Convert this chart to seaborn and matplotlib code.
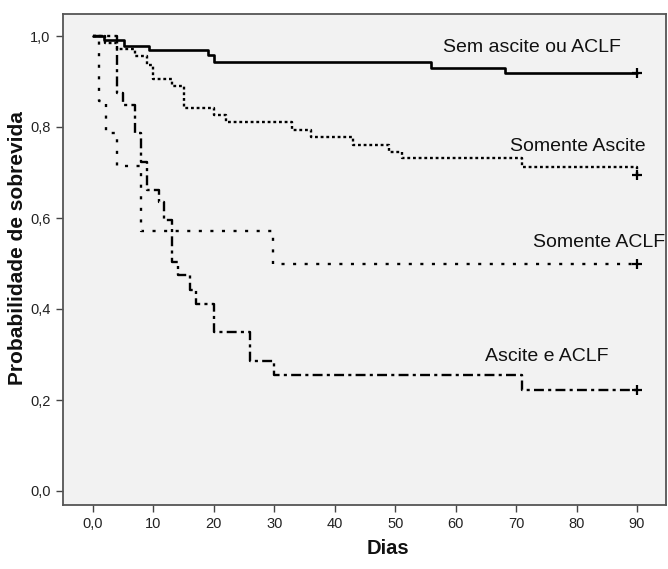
import matplotlib
matplotlib.use("Agg")
import matplotlib.pyplot as plt
import seaborn as sns
import pandas as pd

# ---- data ----
sem_t = [0, 1.9, 5.2, 9.2, 19.1, 20.0, 56.0, 68.1]
sem_s = [1.0, 0.991, 0.979, 0.969, 0.958, 0.942, 0.929, 0.918]

asc_t = [0, 2.0, 4.0, 7.0, 9.0, 10.0, 13.0, 15.0, 20.0, 22.0, 33.0, 36.0, 43.0, 49.0, 51.1, 71.0, 90.0]
asc_s = [1.0, 0.985, 0.971, 0.956, 0.936, 0.906, 0.891, 0.842, 0.826, 0.810, 0.793, 0.777, 0.760, 0.746, 0.731, 0.713, 0.695]

aclf_t = [0, 1.0, 2.1, 4.0, 8.0, 29.8]
aclf_s = [1.0, 0.857, 0.786, 0.714, 0.571, 0.500]

both_t = [0, 4.0, 5.0, 7.0, 8.0, 9.0, 11.0, 11.8, 13.0, 14.0, 16.0, 17.0, 20.0, 26.0, 30.0, 71.0]
both_s = [1.0, 0.875, 0.848, 0.786, 0.724, 0.662, 0.636, 0.596, 0.503, 0.475, 0.442, 0.412, 0.350, 0.286, 0.255, 0.222]

end_day = 90
group_names = ["Sem ascite ou ACLF", "Somente Ascite", "Somente ACLF", "Ascite e ACLF"]
x_ticks = [0, 10, 20, 30, 40, 50, 60, 70, 80, 90]
x_ticklabels = ["0,0", "10", "20", "30", "40", "50", "60", "70", "80", "90"]
y_ticks = [0.0, 0.2, 0.4, 0.6, 0.8, 1.0]
y_ticklabels = ["0,0", "0,2", "0,4", "0,6", "0,8", "1,0"]

# ---- figure ----
sns.set_theme(style="white")
plt.rcParams["font.family"] = ["Liberation Sans", "DejaVu Sans"]

W, H = 668, 569
fig = plt.figure(figsize=(W / 100, H / 100), dpi=100)
fig.patch.set_facecolor("white")
left_px, right_px, top_px, bot_px = 63, 666, 14, 505
ax = fig.add_axes([left_px / W, 1 - bot_px / H, (right_px - left_px) / W, (bot_px - top_px) / H])
ax.set_facecolor("#f2f2f2")

series = [
    (sem_t, sem_s, dict(linestyle="-", linewidth=1.9)),
    (asc_t, asc_s, dict(linestyle=(0, (1.2, 1.2)), linewidth=1.7)),
    (aclf_t, aclf_s, dict(linestyle=(0, (1.3, 3.6)), linewidth=1.7)),
    (both_t, both_s, dict(linestyle=(0, (4.2, 1.8, 1.3, 1.8)), linewidth=1.7)),
]

for name, (t, s, style) in zip(group_names, series):
    xs = list(t) + [end_day]
    ys = list(s) + [s[-1]]
    df = pd.DataFrame({"Dias": xs, "Prob": ys})
    sns.lineplot(data=df, x="Dias", y="Prob", ax=ax, drawstyle="steps-post",
                 sort=False, estimator=None, color="black", **style)
    cens = pd.DataFrame({"Dias": [end_day], "Prob": [s[-1]]})
    sns.scatterplot(data=cens, x="Dias", y="Prob", ax=ax, marker="+", s=45,
                    color="black", linewidth=1.6, zorder=5)

# group labels
txt_kw = dict(fontsize=14, color="#111111", va="center", ha="left")
ax.text(57.9, 0.974, group_names[0], **txt_kw)
ax.text(69.0, 0.758, group_names[1], **txt_kw)
ax.text(72.8, 0.546, group_names[2], **txt_kw)
ax.text(64.8, 0.295, group_names[3], **txt_kw)

# axes scales
def px_to_day(px):
    return (px - 93) / ((637 - 93) / 90)

def px_to_p(py):
    return (491 - py) / 455

ax.set_xlim(px_to_day(left_px), px_to_day(right_px))
ax.set_ylim(px_to_p(bot_px), px_to_p(top_px))
ax.set_xticks(x_ticks)
ax.set_xticklabels(x_ticklabels)
ax.set_yticks(y_ticks)
ax.set_yticklabels(y_ticklabels)
ax.tick_params(axis="both", direction="out", length=5, width=1.0, color="#444444",
               labelsize=10.5, labelcolor="#222222", pad=4, bottom=True, left=True)
for sp in ax.spines.values():
    sp.set_color("#555555")
    sp.set_linewidth(1.3)
ax.set_xlabel("")
ax.set_ylabel("")

fig.text(388 / W, 1 - 548 / H, "Dias", fontsize=14.5, fontweight="bold",
         ha="center", va="center", color="#111111")
fig.text(18 / W, 1 - 248 / H, "Probabilidade de sobrevida", fontsize=15,
         fontweight="bold", rotation=90, ha="center", va="center", color="#111111")

fig.savefig("out.png", dpi=100, facecolor="white")
